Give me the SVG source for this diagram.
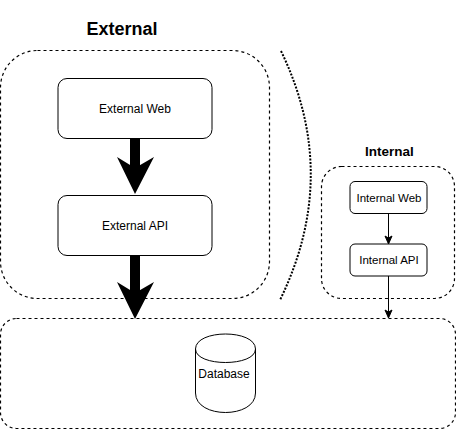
<svg xmlns="http://www.w3.org/2000/svg" width="456" height="429" viewBox="0 0 456 429">
<style>
text{font-family:"Liberation Sans",Arial,sans-serif;fill:#000;text-anchor:middle}
.lbl{font-size:12px}
.title{font-weight:bold}
.grp{fill:none;stroke:#000;stroke-width:1.2;stroke-dasharray:3 3}
.box{fill:#fff;stroke:#000;stroke-width:1}
.thin{fill:none;stroke:#000;stroke-width:1}
.thick{fill:none;stroke:#000;stroke-width:10}
</style>
<rect width="456" height="429" fill="#fff"/>
<g id="external-group">
<rect class="grp" x="0.5" y="50.5" width="269" height="248" rx="37" ry="37"/>
<text class="title" x="122" y="35" font-size="18">External</text>
</g>
<g id="internal-group">
<rect class="grp" x="321.5" y="166.5" width="133" height="132" rx="20" ry="20"/>
<text class="title" x="389.500" y="156" font-size="13.500">Internal</text>
</g>
<g id="database-group">
<rect class="grp" x="0.5" y="318.5" width="455" height="110" rx="16" ry="16"/>
</g>
<g id="separator">
<path d="M281 51Q341 175 280 300" fill="none" stroke="#000" stroke-width="2" stroke-dasharray="2 1.500"/>
</g>
<g id="connectors">
<path class="thick" d="M135 138V172"/>
<path d="M135 194L117 157L135 168L154 157Z"/>
<path class="thick" d="M135 255V296"/>
<path d="M135 319L117 282L135 293L154 282Z"/>
<path class="thin" d="M388.500 213V240"/>
<path d="M388.500 244L385 236L388.500 238L392 236Z" stroke="#000"/>
<path class="thin" d="M388.500 276V314"/>
<path d="M388.500 318L385 310L388.500 312L392 310Z" stroke="#000"/>
</g>
<g id="external-web">
<rect class="box" x="58" y="78.500" width="154" height="60" rx="9" ry="9"/>
<text class="lbl" x="135" y="113">External Web</text>
</g>
<g id="external-api">
<rect class="box" x="58" y="195.500" width="154" height="60" rx="9" ry="9"/>
<text class="lbl" x="135" y="230">External API</text>
</g>
<g id="internal-web">
<rect class="box" x="350" y="181.500" width="77" height="32" rx="5" ry="5"/>
<text class="lbl" x="389" y="202" font-size="11.500" style="font-size:11.500px">Internal Web</text>
</g>
<g id="internal-api">
<rect class="box" x="350" y="244" width="77" height="32" rx="5" ry="5"/>
<text class="lbl" x="389" y="264" style="font-size:11.500px">Internal API</text>
</g>
<g id="database">
<path class="box" d="M195.500 349C195.500 329 255.500 329 255.500 349V393C255.500 419 195.500 419 195.500 393Z"/>
<path class="thin" d="M195.500 349C195.500 367 255.500 367 255.500 349"/>
<text class="lbl" x="224" y="378">Database</text>
</g>
</svg>
